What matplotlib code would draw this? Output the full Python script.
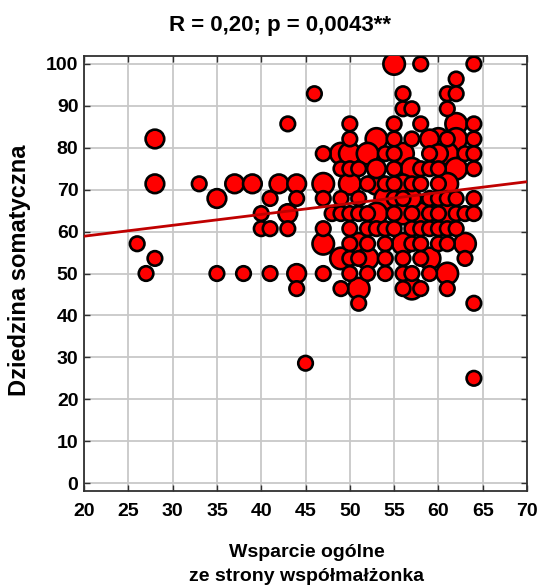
import matplotlib
matplotlib.use("Agg")
import matplotlib.pyplot as plt
import numpy as np

# ---- data (x = Wsparcie ogólne, y = Dziedzina somatyczna, n = bubble weight) ----
pts_left = [
    (26, 57.1, 1), (27, 50.0, 1), (28, 53.6, 1), (28, 82.1, 2), (28, 71.4, 2),
    (33, 71.4, 1), (35, 67.9, 2), (35, 50.0, 1), (37, 71.4, 2), (38, 50.0, 1),
    (39, 71.4, 2), (40, 64.3, 1), (40, 60.7, 1), (41, 67.9, 1), (41, 60.7, 1),
    (41, 50.0, 1), (42, 71.4, 2), (43, 85.7, 1), (43, 64.3, 2), (43, 60.7, 1),
    (44, 71.4, 2), (44, 67.9, 1), (44, 50.0, 2), (44, 46.4, 1), (45, 28.6, 1),
    (46, 92.9, 1), (64, 42.9, 1), (51, 42.9, 1), (64, 25.0, 1),
]

# dense cluster: y level -> list of (x, n)
rows_y = [100.0, 96.4, 92.9, 89.3, 85.7, 82.1, 78.6, 75.0, 71.4, 67.9,
          64.3, 60.7, 57.1, 53.6, 50.0, 46.4]
rows_x = [
    [(55, 3), (58, 1), (64, 1)],
    [(62, 1)],
    [(56, 1), (61, 1), (62, 1)],
    [(56, 1), (57, 1), (61, 1)],
    [(50, 1), (55, 1), (58, 1), (62, 3), (64, 1)],
    [(50, 1), (53, 3), (55, 1), (57, 1), (59, 2), (60, 3), (61, 1), (62, 3), (64, 1)],
    [(47, 1), (49, 3), (50, 3), (52, 3), (54, 1), (55, 1), (56, 3), (59, 1),
     (60, 2), (61, 3), (63, 1), (64, 1)],
    [(49, 1), (50, 1), (51, 1), (53, 2), (55, 1), (57, 3), (58, 1), (59, 1),
     (60, 1), (62, 3), (64, 1)],
    [(47, 3), (50, 3), (52, 1), (53, 3), (54, 1), (55, 1), (56, 2), (57, 1),
     (58, 1), (60, 1), (61, 3)],
    [(47, 1), (49, 1), (51, 1), (54, 3), (55, 1), (56, 1), (57, 2), (59, 1),
     (60, 1), (61, 1), (62, 1), (64, 1)],
    [(48, 1), (49, 1), (50, 1), (51, 1), (52, 1), (53, 3), (55, 1), (56, 3),
     (57, 1), (58, 3), (59, 1), (60, 1), (61, 3), (62, 1), (63, 1), (64, 1)],
    [(47, 1), (50, 1), (52, 1), (53, 1), (54, 1), (55, 1), (57, 1), (58, 1),
     (59, 1), (60, 1), (61, 1), (62, 1)],
    [(47, 3), (50, 1), (51, 3), (52, 1), (54, 1), (56, 3), (57, 1), (58, 1),
     (60, 1), (61, 1), (63, 3)],
    [(49, 3), (50, 1), (51, 1), (52, 3), (54, 1), (56, 1), (58, 1), (59, 3), (63, 1)],
    [(47, 1), (50, 1), (52, 1), (54, 1), (56, 1), (57, 1), (59, 1), (61, 3)],
    [(49, 1), (51, 3), (56, 1), (57, 3), (58, 1), (61, 1)],
]

fit_intercept = 53.7   # regression line shown on the chart
fit_slope = 0.26

title_text = "R = 0,20; p = 0,0043**"
xlabel_text = "Wsparcie ogólne\nze strony współmałżonka"
ylabel_text = "Dziedzina somatyczna"

# ---- assemble ----
xs, ys, ns = [], [], []
for x, y, n in pts_left:
    xs.append(x); ys.append(y); ns.append(n)
for y, row in zip(rows_y, rows_x):
    for x, n in row:
        xs.append(x); ys.append(y); ns.append(n)
xs = np.array(xs); ys = np.array(ys); ns = np.array(ns)
size_map = {1: 110, 2: 180, 3: 240}
sizes = np.array([size_map[n] for n in ns])

plt.rcParams['font.family'] = ['Liberation Sans', 'DejaVu Sans']
fig = plt.figure(figsize=(5.4, 5.88), dpi=100)
ax = fig.add_axes([0.1556, 0.1656, 0.8204, 0.7392])

ax.set_xlim(20, 70)
ax.set_ylim(-1.8, 101.9)
ax.set_xticks(np.arange(20, 71, 5))
ax.set_yticks(np.arange(0, 101, 10))
ax.grid(True, color='#c8c8c8', linewidth=1.3, zorder=0)
ax.set_axisbelow(True)

order = np.argsort(-sizes, kind='stable')
ax.scatter(xs[order], ys[order], s=sizes[order], facecolor='#ff0000',
           edgecolor='black', linewidth=1.9, zorder=3)

lx = np.array([20, 70])
ax.plot(lx, fit_intercept + fit_slope * lx, color='#c00000', linewidth=2.0, zorder=4)

for sp in ax.spines.values():
    sp.set_color('#303030')
    sp.set_linewidth(1.3)
ax.tick_params(direction='in', length=4, width=1.0, top=True, right=True,
               labelsize=14, colors='#303030', labelcolor='black')
ax.tick_params(axis='x', pad=9)
ax.tick_params(axis='y', pad=4)
for lab in ax.get_xticklabels() + ax.get_yticklabels():
    lab.set_fontweight('bold')

fig.text(0.518, 0.957, title_text, ha='center', va='center', fontsize=16,
         fontweight='bold')
fig.text(0.568, 0.04, xlabel_text, ha='center', va='center', fontsize=14,
         fontweight='bold', linespacing=1.55)
fig.text(0.037, 0.54, ylabel_text, ha='center', va='center', rotation=90,
         fontsize=17, fontweight='bold')

fig.savefig('out.png', dpi=100)
